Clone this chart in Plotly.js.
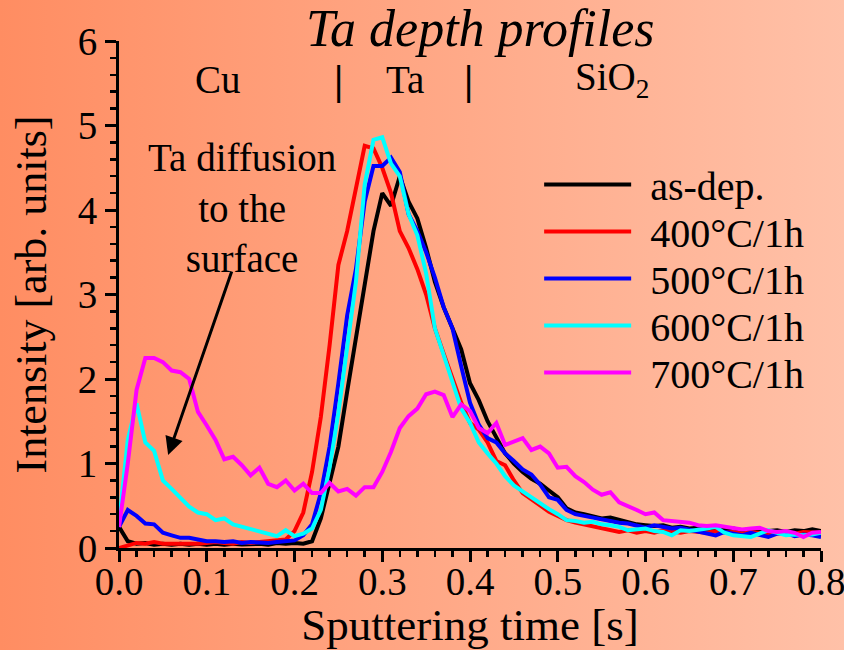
<!DOCTYPE html>
<html>
<head>
<meta charset="utf-8">
<script src="https://cdn.plot.ly/plotly-3.0.1.min.js"></script>
<style>
  html, body { margin: 0; padding: 0; }
  body { width: 844px; height: 650px; background: linear-gradient(to right, #FF8D62, #FFC1A8); }
  #chart { width: 844px; height: 650px; }
</style>
</head>
<body>
<div id="chart"></div>
<script>
// Sputtering time [s]
const time = [0.00,0.01,0.02,0.03,0.04,0.05,0.06,0.07,0.08,0.09,
  0.10,0.11,0.12,0.13,0.14,0.15,0.16,0.17,0.18,0.19,
  0.20,0.21,0.22,0.23,0.24,0.25,0.26,0.27,0.28,0.29,
  0.30,0.31,0.32,0.33,0.34,0.35,0.36,0.37,0.38,0.39,
  0.40,0.41,0.42,0.43,0.44,0.45,0.46,0.47,0.48,0.49,
  0.50,0.51,0.52,0.53,0.54,0.55,0.56,0.57,0.58,0.59,
  0.60,0.61,0.62,0.63,0.64,0.65,0.66,0.67,0.68,0.69,
  0.70,0.71,0.72,0.73,0.74,0.75,0.76,0.77,0.78,0.79,0.80];

const seriesNames = ["as-dep.", "400°C/1h", "500°C/1h", "600°C/1h", "700°C/1h"];
const seriesColors = ["#000000", "#FF0000", "#0000FF", "#00FFFF", "#FF00FF"];

const asDep = [0.25,0.08,0.05,0.06,0.04,0.05,0.04,0.05,0.04,0.05,
  0.04,0.05,0.04,0.05,0.04,0.05,0.05,0.04,0.06,0.05,
  0.06,0.05,0.08,0.35,0.80,1.20,1.85,2.50,3.15,3.75,
  4.20,4.05,4.40,4.10,3.90,3.55,3.15,2.85,2.60,2.35,
  1.95,1.75,1.50,1.30,1.12,1.00,0.90,0.82,0.76,0.68,
  0.60,0.47,0.42,0.40,0.38,0.35,0.36,0.33,0.31,0.28,
  0.27,0.26,0.27,0.24,0.25,0.23,0.24,0.22,0.23,0.22,
  0.23,0.21,0.22,0.21,0.20,0.21,0.19,0.21,0.20,0.22,0.20];

const t400 = [0.00,0.03,0.06,0.05,0.07,0.05,0.05,0.04,0.05,0.05,
  0.06,0.07,0.06,0.05,0.07,0.06,0.07,0.08,0.08,0.10,
  0.20,0.42,0.90,1.55,2.40,3.35,3.75,4.25,4.76,4.73,
  4.50,4.20,3.75,3.55,3.30,3.00,2.60,2.30,2.00,1.72,
  1.48,1.40,1.25,1.03,0.98,0.80,0.65,0.58,0.50,0.43,
  0.38,0.33,0.30,0.28,0.25,0.24,0.22,0.19,0.21,0.18,
  0.20,0.18,0.21,0.19,0.18,0.20,0.19,0.18,0.20,0.18,
  0.19,0.17,0.19,0.18,0.17,0.19,0.18,0.17,0.19,0.18,0.18];

const t500 = [0.25,0.45,0.38,0.29,0.28,0.18,0.15,0.12,0.12,0.10,
  0.08,0.08,0.07,0.08,0.06,0.07,0.06,0.06,0.07,0.08,
  0.09,0.15,0.28,0.65,1.20,1.95,2.75,3.30,4.10,4.52,
  4.52,4.62,4.45,3.95,3.75,3.50,3.20,2.85,2.60,2.15,
  1.72,1.46,1.30,1.25,1.12,1.03,0.93,0.87,0.75,0.60,
  0.57,0.45,0.40,0.38,0.36,0.33,0.31,0.30,0.29,0.26,
  0.24,0.27,0.25,0.23,0.24,0.22,0.20,0.18,0.15,0.19,
  0.17,0.15,0.18,0.16,0.13,0.17,0.18,0.14,0.16,0.15,0.13];

const t600 = [0.30,1.28,1.71,1.25,1.15,0.80,0.70,0.60,0.49,0.42,
  0.40,0.33,0.35,0.28,0.25,0.22,0.19,0.17,0.14,0.21,
  0.14,0.17,0.23,0.45,0.95,1.60,2.40,3.15,4.30,4.83,
  4.86,4.55,4.40,3.95,3.70,3.25,2.60,2.28,1.95,1.65,
  1.48,1.25,1.12,1.00,0.85,0.74,0.67,0.60,0.52,0.46,
  0.40,0.33,0.32,0.30,0.31,0.28,0.27,0.25,0.21,0.22,
  0.23,0.20,0.19,0.15,0.21,0.20,0.21,0.23,0.25,0.18,
  0.15,0.14,0.13,0.17,0.21,0.18,0.15,0.16,0.15,0.16,0.18];

const t700 = [0.25,1.00,1.87,2.25,2.25,2.20,2.10,2.08,2.00,1.61,
  1.45,1.28,1.05,1.08,0.98,0.86,0.95,0.76,0.72,0.80,
  0.68,0.76,0.65,0.65,0.77,0.67,0.70,0.62,0.72,0.72,
  0.90,1.14,1.42,1.56,1.65,1.82,1.85,1.81,1.55,1.70,
  1.62,1.42,1.36,1.48,1.22,1.26,1.30,1.16,1.20,1.12,
  0.95,0.96,0.85,0.78,0.69,0.63,0.66,0.54,0.50,0.45,
  0.40,0.42,0.33,0.32,0.31,0.30,0.27,0.26,0.27,0.25,
  0.24,0.22,0.23,0.24,0.20,0.19,0.20,0.18,0.13,0.18,0.19];

const seriesValues = [asDep, t400, t500, t600, t700];

const xTickVals = [0, 0.1, 0.2, 0.3, 0.4, 0.5, 0.6, 0.7, 0.8];
const xTickText = ["0.0","0.1","0.2","0.3","0.4","0.5","0.6","0.7","0.8"];
const yTickVals = [0,1,2,3,4,5,6];
const yTickText = ["0","1","2","3","4","5","6"];

const FONT = "Liberation Serif, Times New Roman, serif";
const TXT = 39;

const traces = seriesValues.map((vals, i) => ({
  type: "scatter",
  mode: "lines",
  name: seriesNames[i],
  x: time,
  y: vals,
  line: { color: seriesColors[i], width: 4 }
}));

const layout = {
  width: 844,
  height: 650,
  paper_bgcolor: "rgba(0,0,0,0)",
  plot_bgcolor: "rgba(0,0,0,0)",
  margin: { l: 119, r: 23, t: 41, b: 102 },
  font: { family: FONT, color: "#000", size: TXT },
  title: {
    text: "<i>Ta depth profiles</i>",
    font: { family: FONT, size: 52, color: "#000" },
    x: 0.569, xanchor: "center",
    y: 0.958, yanchor: "middle", yref: "container"
  },
  xaxis: {
    range: [0, 0.8],
    showgrid: false, zeroline: false,
    showline: true, linecolor: "#000", linewidth: 3,
    ticks: "outside", ticklen: 11, tickwidth: 3, tickcolor: "#000",
    tickvals: xTickVals, ticktext: xTickText,
    ticklabeloverflow: "allow",
    ticklabelstandoff: -14,
    tickfont: { family: FONT, size: TXT, color: "#000" },
    minor: { dtick: 0.02, ticks: "outside", ticklen: 6, tickwidth: 2.5, tickcolor: "#000" },
    title: { text: "Sputtering time [s]", font: { family: FONT, size: 45, color: "#000" }, standoff: 20 }
  },
  yaxis: {
    range: [0, 6],
    showgrid: false, zeroline: false,
    showline: true, linecolor: "#000", linewidth: 3,
    ticks: "outside", ticklen: 11, tickwidth: 3, tickcolor: "#000",
    tickvals: yTickVals, ticktext: yTickText,
    ticklabeloverflow: "allow",
    tickfont: { family: FONT, size: TXT, color: "#000" },
    minor: { dtick: 0.2, ticks: "outside", ticklen: 6, tickwidth: 2.5, tickcolor: "#000" },
    title: { text: "Intensity [arb. units]", font: { family: FONT, size: 44, color: "#000" }, standoff: 18 }
  },
  showlegend: true,
  legend: {
    x: 0.5985, xanchor: "left",
    y: 0.781, yanchor: "top",
    bgcolor: "rgba(0,0,0,0)",
    borderwidth: 0,
    itemwidth: 101,
    tracegroupgap: 0,
    font: { family: FONT, size: 40, color: "#000" }
  },
  annotations: [
    { x: 0.113, y: 5.54, xref: "x", yref: "y", text: "Cu", showarrow: false, font: { size: TXT } },
    { x: 0.25, y: 5.54, xref: "x", yref: "y", text: "<b>|</b>", showarrow: false, font: { size: 42 } },
    { x: 0.326, y: 5.54, xref: "x", yref: "y", text: "Ta", showarrow: false, font: { size: TXT } },
    { x: 0.398, y: 5.54, xref: "x", yref: "y", text: "<b>|</b>", showarrow: false, font: { size: 42 } },
    { x: 0.562, y: 5.54, xref: "x", yref: "y", text: "SiO<sub>2</sub>", showarrow: false, font: { size: TXT } },
    { x: 0.14, y: 4.02, xref: "x", yref: "y", text: "Ta diffusion<br>to the<br>surface", showarrow: false, align: "center", font: { size: TXT } },
    { x: 0.056, y: 1.10, xref: "x", yref: "y", ax: 0.129, ay: 3.29, axref: "x", ayref: "y",
      text: "", showarrow: true, arrowhead: 2, arrowsize: 1.2, arrowwidth: 3, arrowcolor: "#000" }
  ]
};

Plotly.newPlot("chart", traces, layout, { staticPlot: true, displayModeBar: false }).then(() => {
  document.querySelectorAll(".legend .legendlines path").forEach(p => p.setAttribute("d", "M5,0h87"));
  // tighten legend row spacing to match the reference (47 px per row)
  const items = document.querySelectorAll(".legend .traces");
  let y0 = null;
  items.forEach((g, i) => {
    const m = /translate\(([-\d.]+),\s*([-\d.]+)\)/.exec(g.getAttribute("transform") || "");
    if (!m) return;
    if (y0 === null) y0 = parseFloat(m[2]);
    g.setAttribute("transform", "translate(" + m[1] + "," + (y0 + i * 47) + ")");
  });
});
</script>
</body>
</html>
